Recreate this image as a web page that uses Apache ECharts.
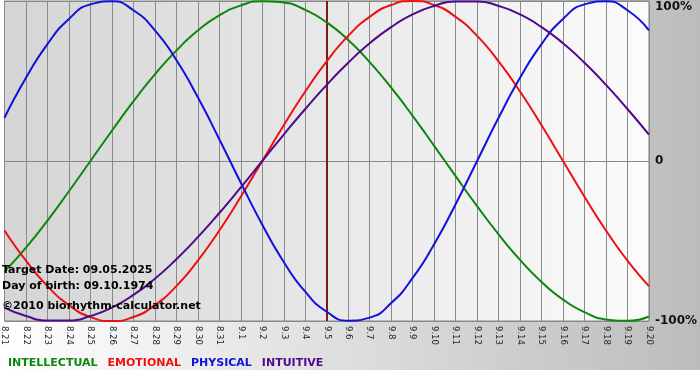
<!DOCTYPE html>
<html>
<head>
<meta charset="utf-8">
<script src="https://cdn.jsdelivr.net/npm/echarts@6/dist/echarts.min.js"></script>
<style>
  html, body { margin: 0; padding: 0; background: #fff; }
  #chart { width: 700px; height: 380px; }
</style>
</head>
<body>
<div id="chart"></div>
<script>
// days shown on the x axis (month.day)
var days = ['8.21', '8.22', '8.23', '8.24', '8.25', '8.26', '8.27', '8.28', '8.29', '8.30', '8.31',
  '9.1', '9.2', '9.3', '9.4', '9.5', '9.6', '9.7', '9.8', '9.9', '9.10',
  '9.11', '9.12', '9.13', '9.14', '9.15', '9.16', '9.17', '9.18', '9.19', '9.20'];
var targetDay = '9.5';

// values in percent for each day
var intellectual = [-69.0, -54.1, -37.2, -18.9, 0, 18.9, 37.2, 54.1, 69.0, 81.5, 91.0, 97.2, 99.9, 99.0,
  94.5, 86.6, 75.6, 61.8, 45.8, 28.2, 9.5, -9.5, -28.2, -45.8, -61.8, -75.6, -86.6, -94.5, -99.0, -99.9, -97.2];
var emotional = [-43.4, -62.3, -78.2, -90.1, -97.5, -100, -97.5, -90.1, -78.2, -62.3, -43.4, -22.3, 0, 22.3,
  43.4, 62.3, 78.2, 90.1, 97.5, 100, 97.5, 90.1, 78.2, 62.3, 43.4, 22.3, 0, -22.3, -43.4, -62.3, -78.2];
var physical = [27.0, 52.0, 73.1, 88.8, 97.9, 99.8, 94.2, 81.7, 63.1, 39.8, 13.6, -13.6, -39.8, -63.1,
  -81.7, -94.2, -99.8, -97.9, -88.8, -73.1, -52.0, -27.0, 0, 27.0, 52.0, 73.1, 88.8, 97.9, 99.8, 94.2, 81.7];
var intuitive = [-91.6, -96.9, -99.7, -99.7, -96.9, -91.6, -83.7, -73.6, -61.4, -47.6, -32.5, -16.5, 0, 16.5,
  32.5, 47.6, 61.4, 73.6, 83.7, 91.6, 96.9, 99.7, 99.7, 96.9, 91.6, 83.7, 73.6, 61.4, 47.6, 32.5, 16.5];

var names = ['INTELLECTUAL', 'EMOTIONAL', 'PHYSICAL', 'INTUITIVE'];
var colors = ['#0c870c', '#ee1111', '#1111dd', '#4f0a8c'];
var yTicks = [-100, 0, 100];

var infoLines = ['Target Date: 09.05.2025', 'Day of birth: 09.10.1974', '\u00a92010 biorhythm-calculator.net'];

var myChart = echarts.init(document.getElementById('chart'));

function line(name, data, color) {
  return {
    name: name,
    type: 'line',
    data: data,
    smooth: 0.55,
    showSymbol: false,
    lineStyle: { color: color, width: 2 },
    itemStyle: { color: color },
    z: 3
  };
}

var series = [
  line(names[0], intellectual, colors[0]),
  line(names[1], emotional, colors[1]),
  line(names[2], physical, colors[2]),
  line(names[3], intuitive, colors[3])
];
// target day marker
series[0].markLine = {
  silent: true,
  symbol: 'none',
  label: { show: false },
  lineStyle: { color: '#7a1b1b', width: 2, type: 'solid' },
  data: [{ xAxis: targetDay }],
  z: 2
};

var textStyle = { fontFamily: 'DejaVu Sans', fontWeight: 'bold', fontSize: 11, color: '#111' };

var option = {
  animation: false,
  graphic: [
    {
      type: 'rect', z: -10, silent: true,
      shape: { x: 0, y: 0, width: 700, height: 370 },
      style: {
        fill: new echarts.graphic.LinearGradient(0, 0, 1, 0, [
          { offset: 0, color: '#ffffff' },
          { offset: 1, color: '#bcbcbc' }
        ])
      }
    },
    {
      type: 'rect', z: -10, silent: true,
      shape: { x: 0, y: 370, width: 700, height: 10 },
      style: { fill: '#ffffff' }
    },
    { type: 'text', left: 2, top: 265, z: 10, style: Object.assign({ text: infoLines[0] }, textStyle) },
    { type: 'text', left: 2, top: 281, z: 10, style: Object.assign({ text: infoLines[1] }, textStyle) },
    { type: 'text', left: 2, top: 301, z: 10, style: Object.assign({ text: infoLines[2] }, textStyle) }
  ],
  legend: {
    left: -2,
    top: 351,
    icon: 'none',
    itemWidth: 0,
    itemGap: 5,
    selectedMode: false,
    textStyle: { fontFamily: 'DejaVu Sans', fontWeight: 'bold', fontSize: 11 },
    data: names.map(function (n, i) {
      return { name: n, textStyle: { color: colors[i] } };
    })
  },
  grid: {
    left: 0,
    right: 49,
    top: 1,
    bottom: 59,
    show: true,
    backgroundColor: new echarts.graphic.LinearGradient(0, 0, 1, 0, [
      { offset: 0, color: '#d5d5d5' },
      { offset: 1, color: '#fbfbfb' }
    ]),
    borderColor: '#888',
    borderWidth: 1
  },
  xAxis: {
    type: 'category',
    data: days,
    boundaryGap: false,
    axisLine: { lineStyle: { color: '#888' } },
    axisTick: { show: false },
    axisLabel: {
      interval: 0,
      rotate: -90,
      margin: 5,
      fontFamily: 'DejaVu Sans',
      fontSize: 8.5,
      color: '#222'
    },
    splitLine: { show: true, interval: 0, lineStyle: { color: '#8a8a8a', width: 1 } }
  },
  yAxis: {
    type: 'value',
    position: 'right',
    min: yTicks[0],
    max: yTicks[2],
    interval: 100,
    axisLine: { show: false },
    axisTick: { show: false },
    splitLine: { show: true, lineStyle: { color: '#888', width: 1 } },
    axisLabel: {
      margin: 6,
      formatter: function (v) {
        if (v === 0) return '0';
        if (v === yTicks[2]) return '{top|' + v + '%}';
        return v + '%';
      },
      fontFamily: 'DejaVu Sans',
      fontWeight: 'bold',
      fontSize: 12,
      color: '#111',
      rich: {
        top: { fontFamily: 'DejaVu Sans', fontWeight: 'bold', fontSize: 12, color: '#111', padding: [12, 0, 0, 0] }
      }
    }
  },
  series: series
};

myChart.setOption(option);
</script>
</body>
</html>
